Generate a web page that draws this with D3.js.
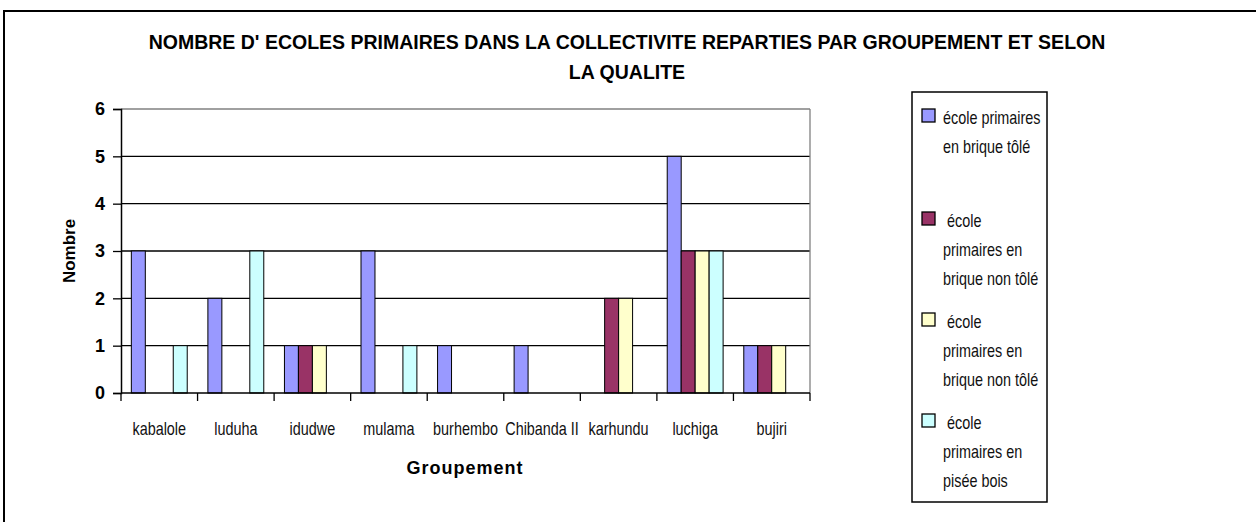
<!DOCTYPE html>
<html>
<head>
<meta charset="utf-8">
<script src="https://cdn.jsdelivr.net/npm/d3@7"></script>
<style>
  body { margin: 0; background: #fff; }
  .cond { font-family: "Liberation Sans Narrow", "Liberation Sans", Arial, sans-serif; fill: #111; }
  .bold { font-family: "Liberation Sans", Arial, sans-serif; font-weight: bold; fill: #000; }
</style>
</head>
<body>
<svg id="chart" width="1256" height="522"></svg>
<script>
// groups along the x axis
const groupements = ['kabalole', 'luduha', 'idudwe', 'mulama', 'burhembo', 'Chibanda II', 'karhundu', 'luchiga', 'bujiri'];

// one array per series, in the same order as groupements
const briqueTole = [3, 2, 1, 3, 1, 1, 0, 5, 1];
const briqueNonTole = [0, 0, 1, 0, 0, 0, 2, 3, 1];
const briqueNonTole2 = [0, 0, 1, 0, 0, 0, 2, 3, 1];
const piseeBois = [1, 3, 0, 1, 0, 0, 0, 3, 0];

const seriesNames = ['s1', 's2', 's3', 's4'];
const seriesLabels = [
    ['école primaires', 'en brique tôlé'],
    [' école', 'primaires en', 'brique non tôlé'],
    [' école', 'primaires en', 'brique non tôlé'],
    [' école', 'primaires en', 'pisée bois']
];
const seriesColors = ['#9999FF', '#993366', '#FFFFCC', '#CCFFFF'];
const yTicks = [0, 1, 2, 3, 4, 5, 6];

const allSeries = [briqueTole, briqueNonTole, briqueNonTole2, piseeBois];

const svg = d3.select('#chart');
const narrow = 0.8; // horizontal squeeze for the condensed labels

// outer frame
svg.append('rect').attr('x', 4).attr('y', 11).attr('width', 1270).attr('height', 530)
    .attr('fill', 'none').attr('stroke', '#000').attr('stroke-width', 2);

const pLeft = 121, pRight = 810, pTop = 109, pBottom = 393;

const x = d3.scaleBand().domain(groupements).range([pLeft, pRight]);
const groupW = x.bandwidth() * 0.73;
const xs = d3.scaleBand().domain(seriesNames).range([0, groupW]);
const y = d3.scaleLinear().domain([0, 6]).range([pBottom, pTop]);

// gridlines
svg.append('g').selectAll('line').data(yTicks.filter(d => d > 0)).enter().append('line')
    .attr('x1', pLeft).attr('x2', pRight)
    .attr('y1', d => y(d)).attr('y2', d => y(d))
    .attr('stroke', d => d === 6 ? '#808080' : '#000').attr('stroke-width', 1.3);

// right border of plot area
svg.append('line').attr('x1', pRight).attr('x2', pRight).attr('y1', pTop).attr('y2', pBottom)
    .attr('stroke', '#808080').attr('stroke-width', 1.3);

// bars
const rows = [];
groupements.forEach((g, i) => {
    allSeries.forEach((s, j) => {
        if (s[i] > 0) rows.push({ g: g, s: seriesNames[j], v: s[i], c: seriesColors[j] });
    });
});

svg.append('g').selectAll('rect').data(rows).enter().append('rect')
    .attr('x', d => x(d.g) + (x.bandwidth() - groupW) / 2 + xs(d.s))
    .attr('y', d => y(d.v))
    .attr('width', xs.bandwidth())
    .attr('height', d => y(0) - y(d.v))
    .attr('fill', d => d.c)
    .attr('stroke', '#000').attr('stroke-width', 1);

// y axis
const yAxis = svg.append('g').attr('transform', `translate(${pLeft},0)`)
    .call(d3.axisLeft(y).tickValues(yTicks).tickSize(8).tickPadding(8).tickFormat(d3.format('d')));
yAxis.select('.domain').attr('stroke', '#000').attr('stroke-width', 1.5);
yAxis.selectAll('.tick line').attr('stroke', '#000').attr('stroke-width', 1.3);
yAxis.selectAll('.tick text').attr('class', 'bold').attr('font-size', 18).attr('fill', '#000');

// x axis line and ticks at category boundaries
svg.append('line').attr('x1', pLeft).attr('x2', pRight).attr('y1', pBottom).attr('y2', pBottom)
    .attr('stroke', '#000').attr('stroke-width', 1.5);
const bounds = groupements.map(g => x(g)).concat([pRight]);
svg.append('g').selectAll('line').data(bounds).enter().append('line')
    .attr('x1', d => d).attr('x2', d => d).attr('y1', pBottom).attr('y2', pBottom + 8)
    .attr('stroke', '#000').attr('stroke-width', 1.3);

svg.append('g').selectAll('g').data(groupements).enter().append('g')
    .attr('transform', d => `translate(${x(d) + x.bandwidth() / 2},435) scale(${narrow},1)`)
    .append('text')
    .attr('class', 'cond')
    .attr('text-anchor', 'middle')
    .attr('font-size', 18)
    .text(d => d);

// axis titles
svg.append('text').attr('class', 'bold').attr('x', 465).attr('y', 474)
    .attr('text-anchor', 'middle').attr('font-size', 18).attr('letter-spacing', 1).text('Groupement');

svg.append('text').attr('class', 'bold')
    .attr('transform', 'translate(75,251) rotate(-90)')
    .attr('text-anchor', 'middle').attr('font-size', 17).text('Nombre');

// title
const title = svg.append('text').attr('class', 'bold').attr('text-anchor', 'middle').attr('font-size', 19.5);
title.append('tspan').attr('x', 627).attr('y', 49)
    .text("NOMBRE D' ECOLES PRIMAIRES DANS LA COLLECTIVITE REPARTIES PAR GROUPEMENT ET SELON");
title.append('tspan').attr('x', 627).attr('y', 79).text('LA QUALITE');

// legend
svg.append('rect').attr('x', 912).attr('y', 92).attr('width', 135).attr('height', 410)
    .attr('fill', '#fff').attr('stroke', '#000').attr('stroke-width', 1.5);

const legendTop = [109, 212, 313, 414];
const lg = svg.append('g').selectAll('g').data(seriesLabels).enter().append('g')
    .attr('transform', (d, i) => `translate(922,${legendTop[i]})`);
lg.append('rect').attr('width', 13).attr('height', 13)
    .attr('fill', (d, i) => seriesColors[i]).attr('stroke', '#000').attr('stroke-width', 1.3);
lg.each(function(lines) {
    const t = d3.select(this).append('g').attr('transform', `translate(21,0) scale(${narrow},1)`)
        .append('text').attr('class', 'cond').attr('font-size', 18);
    lines.forEach((l, k) => {
        t.append('tspan').attr('x', l.startsWith(' ') ? 5 : 0).attr('y', 15 + k * 29).text(l.trim());
    });
});
</script>
</body>
</html>
